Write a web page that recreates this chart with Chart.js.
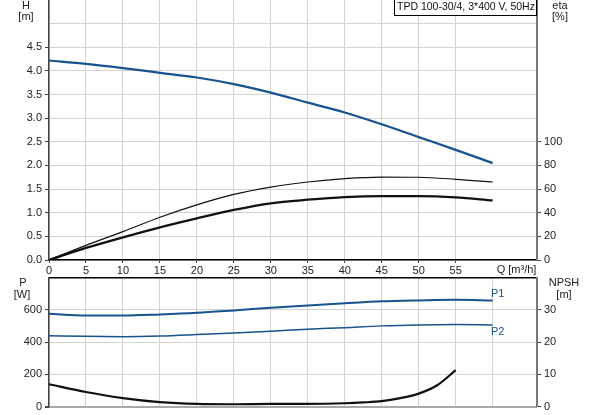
<!DOCTYPE html>
<html>
<head>
<meta charset="utf-8">
<script src="https://cdn.jsdelivr.net/npm/chart.js"></script>
<style>
html, body { margin: 0; padding: 0; background: #fff; }
#wrap { position: relative; width: 593px; height: 415px; overflow: hidden; }
canvas { position: absolute; left: 0; }
#top { top: 0; }
#bottom { top: 270px; }
</style>
</head>
<body>
<div id="wrap">
  <canvas id="top" width="593" height="280"></canvas>
  <canvas id="bottom" width="593" height="145"></canvas>
</div>
<script>
// flow in m3/h
const flow = [0, 5, 10, 15, 20, 25, 30, 35, 40, 45, 50, 55, 60];
const head = [4.22, 4.15, 4.06, 3.96, 3.86, 3.72, 3.54, 3.33, 3.12, 2.87, 2.60, 2.33, 2.05];
const etaPump = [0, 12.4, 24, 36.2, 46.7, 55.5, 61.7, 66, 68.9, 70.2, 70, 68.3, 66];
const etaTotal = [0, 10.2, 19.2, 27.7, 35.3, 42.4, 48, 51, 53.2, 54, 54, 53, 50.4];
const powerP1 = [575, 564, 564, 571, 581, 596, 612, 627, 640, 652, 658, 662, 658];
const powerP2 = [439, 435, 433, 437, 446, 456, 467, 479, 489, 500, 506, 508, 506];
const flowNpsh = [0, 5, 10, 15, 20, 25, 30, 35, 40, 42.5, 45, 47.5, 50, 52.5, 55];
const npsh = [6.9, 4.5, 2.6, 1.35, 0.8, 0.7, 0.8, 0.8, 1.0, 1.25, 1.65, 2.6, 4.0, 6.6, 11.25];

const hTicks = ['0.0', '0.5', '1.0', '1.5', '2.0', '2.5', '3.0', '3.5', '4.0', '4.5'];
const etaTicks = [0, 20, 40, 60, 80, 100];
const pTicks = [0, 200, 400, 600];
const npshTicks = [0, 10, 20, 30];
const qTicks = [0, 5, 10, 15, 20, 25, 30, 35, 40, 45, 50, 55];

const BLUE = '#17538f';
const GRID = '#d3d3d3';
const FONT = { family: '"Liberation Sans", Arial, sans-serif', size: 11 };
const TXT = '#222';

function pts(xs, ys) {
  return xs.map((x, i) => ({ x: x, y: ys[i] }));
}

function line(data, color, width, axis) {
  return {
    data: data, borderColor: color, borderWidth: width, pointRadius: 0,
    fill: false, cubicInterpolationMode: 'monotone', yAxisID: axis
  };
}

function label(ctx, text, x, y, align, color, size) {
  ctx.save();
  ctx.font = (size || 11) + 'px "Liberation Sans", Arial, sans-serif';
  ctx.fillStyle = color || TXT;
  ctx.textAlign = align || 'center';
  ctx.textBaseline = 'middle';
  ctx.fillText(text, x, y);
  ctx.restore();
}

// fixed axis box so the plot area lands where the reference has it
function fixBox(width) {
  return function (s) {
    s.width = width;
    s.paddingTop = 0;
    s.paddingBottom = 0;
  };
}

Chart.defaults.font = FONT;
Chart.defaults.color = TXT;

const topTexts = {
  id: 'topTexts',
  afterDraw(chart) {
    const c = chart.ctx;
    label(c, 'H', 26, 6);
    label(c, '[m]', 26, 17);
    label(c, 'eta', 560, 6);
    label(c, '[%]', 560, 17);
    label(c, 'Q [m\u00b3/h]', chart.scales.x.getPixelForValue(60) + 4, 270, 'left');
    c.save();
    c.fillStyle = '#fff';
    c.fillRect(394, -1, 142, 16);
    c.strokeStyle = '#000';
    c.lineWidth = 1;
    c.strokeRect(394.5, -0.5, 142, 16);
    c.restore();
    label(c, 'TPD 100-30/4, 3*400 V, 50Hz', 397, 7.5, 'left', '#111', 10.5);
  }
};

const bottomTexts = {
  id: 'bottomTexts',
  afterDraw(chart) {
    const c = chart.ctx;
    label(c, 'P', 23, 13);
    label(c, '[W]', 22, 25);
    label(c, 'NPSH', 564, 13);
    label(c, '[m]', 564, 25);
    label(c, 'P1', 491, 24, 'left', BLUE);
    label(c, 'P2', 491, 62, 'left', BLUE);
  }
};

new Chart(document.getElementById('top'), {
  type: 'line',
  data: {
    datasets: [
      line(pts(flow, head), BLUE, 2.2, 'y'),
      line(pts(flow, etaPump), '#111', 1.2, 'y1'),
      line(pts(flow, etaTotal), '#111', 2.3, 'y1')
    ]
  },
  options: {
    responsive: false, animation: false, devicePixelRatio: 1,
    layout: { padding: 0 },
    plugins: { legend: { display: false }, tooltip: { enabled: false } },
    scales: {
      x: {
        type: 'linear', min: 0, max: 66, position: 'bottom',
        afterFit(s) { s.height = 20; },
        ticks: {
          stepSize: 5, padding: 1, maxRotation: 0, autoSkip: false,
          callback: v => qTicks.includes(v) ? String(v) : null
        },
        grid: { color: GRID, tickLength: 3, tickColor: '#444' },
        border: { color: '#000', width: 1.5 }
      },
      y: {
        position: 'left', min: 0, max: 5.5,
        afterFit: fixBox(49),
        ticks: {
          stepSize: 0.5, padding: 3,
          callback: v => {
            const t = v.toFixed(1);
            if (hTicks.includes(t)) return t;
            return v < 5.2 ? '' : null;
          }
        },
        grid: {
          color: ctx => ctx.tick && ctx.tick.value > 5.2 ? 'transparent' : GRID,
          tickLength: 4,
          tickColor: ctx => ctx.tick && ctx.tick.value > 4.6 ? 'transparent' : '#444'
        },
        border: { color: '#444', width: 1.5 }
      },
      y1: {
        position: 'right', min: 0, max: 220,
        afterFit: fixBox(56),
        ticks: {
          stepSize: 20, padding: 3,
          callback: v => etaTicks.includes(v) ? String(v) : null
        },
        grid: {
          drawOnChartArea: false, tickLength: 4,
          tickColor: ctx => ctx.tick && ctx.tick.value > 100 ? 'transparent' : '#444'
        },
        border: { color: '#777', width: 2 }
      }
    }
  },
  plugins: [topTexts]
});

new Chart(document.getElementById('bottom'), {
  type: 'line',
  data: {
    datasets: [
      line(pts(flow, powerP1), BLUE, 2, 'y'),
      line(pts(flow, powerP2), BLUE, 1.5, 'y'),
      line(pts(flowNpsh, npsh), '#111', 2.2, 'y1')
    ]
  },
  options: {
    responsive: false, animation: false, devicePixelRatio: 1,
    layout: { padding: { top: 0, bottom: 8.5, left: 0, right: 0 } },
    plugins: { legend: { display: false }, tooltip: { enabled: false } },
    scales: {
      x: {
        type: 'linear', min: 0, max: 66, position: 'top',
        afterFit(s) { s.height = 7.5; },
        ticks: { display: false, stepSize: 5 },
        grid: { color: GRID, drawTicks: false },
        border: { color: '#000', width: 1.5 }
      },
      y: {
        position: 'left', min: 0, max: 800,
        afterFit: fixBox(49),
        ticks: {
          stepSize: 200, padding: 3,
          callback: v => pTicks.includes(v) ? String(v) : null
        },
        grid: {
          color: ctx => ctx.tick && ctx.tick.value === 0 ? '#a8a8a8' : (ctx.tick && ctx.tick.value > 700 ? 'transparent' : GRID),
          lineWidth: ctx => ctx.tick && ctx.tick.value === 0 ? 2 : 1,
          tickLength: 4, tickColor: '#444'
        },
        border: { color: '#444', width: 1.5 }
      },
      y1: {
        position: 'right', min: 0, max: 40,
        afterFit: fixBox(56),
        ticks: {
          stepSize: 10, padding: 3,
          callback: v => npshTicks.includes(v) ? String(v) : null
        },
        grid: { drawOnChartArea: false, tickLength: 4, tickColor: '#444' },
        border: { color: '#777', width: 2 }
      }
    }
  },
  plugins: [bottomTexts]
});
</script>
</body>
</html>
